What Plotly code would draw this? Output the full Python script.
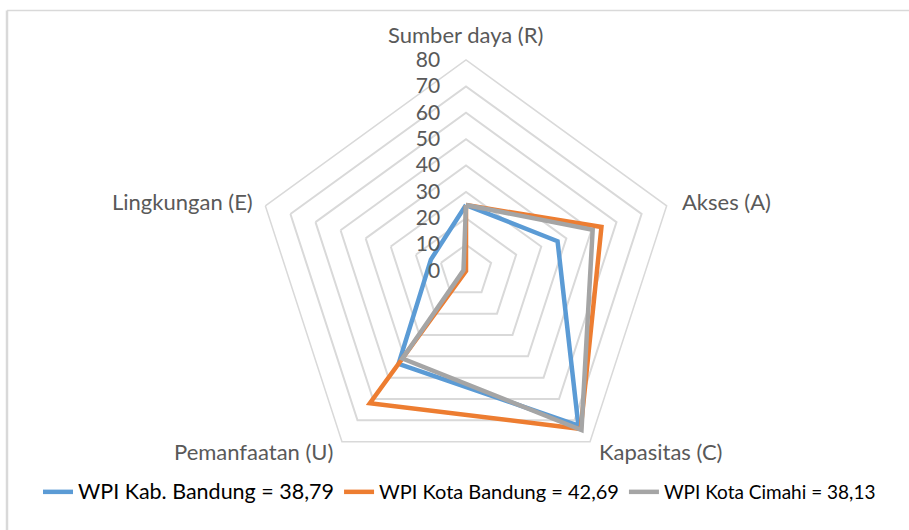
import math
import plotly.graph_objects as go

categories = ["Sumber daya (R)", "Akses (A)", "Kapasitas (C)", "Pemanfaatan (U)", "Lingkungan (E)"]
kab_bandung = [25, 36.5, 72.5, 43.5, 14]
kota_bandung = [25, 54, 74, 62, 0]
kota_cimahi = [25, 50.5, 74.5, 41, 1]
series_names = [
    '<span style="font-size:21.5px">WPI Kab. Bandung = 38,79</span>',
    '<span style="font-size:20px">WPI Kota Bandung = 42,69</span>',
    'WPI Kota Cimahi = 38,13',
]
series_colors = ["#5B9BD5", "#ED7D31", "#A5A5A5"]
radial_ticks = [0, 10, 20, 30, 40, 50, 60, 70, 80]

W, H = 909, 530
cx, cy, R = 466, 271, 211

fig = go.Figure()
for vals, name, col in zip([kab_bandung, kota_bandung, kota_cimahi], series_names, series_colors):
    fig.add_trace(go.Scatterpolar(
        r=vals + vals[:1], theta=categories + categories[:1],
        mode="lines", name=name,
        line=dict(color=col, width=4.5),
    ))

# category labels placed just outside each outer vertex (Excel-like placement)
label_offsets = [  # (dx, dy, xanchor)
    (0, -25, "center"),
    (13, -4, "left"),
    (7, 10, "left"),
    (-7, 10, "right"),
    (-10, -4, "right"),
]
annotations = []
for i, (cat, (dx, dy, xa)) in enumerate(zip(categories, label_offsets)):
    ang = math.radians(90 - 72 * i)
    vx = cx + R * math.cos(ang)
    vy = cy - R * math.sin(ang)
    annotations.append(dict(
        text=cat, xref="paper", yref="paper",
        x=(vx + dx) / W, y=1 - (vy + dy) / H,
        xanchor=xa, yanchor="middle", showarrow=False,
        font=dict(size=22, color="#595959", family="Lato, sans-serif"),
    ))

fig.update_layout(
    width=W, height=H,
    margin=dict(l=0, r=0, t=0, b=0),
    paper_bgcolor="white",
    font=dict(family="Lato, sans-serif", color="#595959"),
    polar=dict(
        domain=dict(x=[(cx - R) / W, (cx + R) / W], y=[(H - cy - R) / H, (H - cy + R) / H]),
        gridshape="linear",
        bgcolor="white",
        radialaxis=dict(
            range=[0, 80], tickvals=radial_ticks, angle=90, side="counterclockwise",
            showline=False, ticks="outside", ticklen=18, tickcolor="rgba(0,0,0,0)",
            gridcolor="#D9D9D9", gridwidth=1.5,
            tickfont=dict(size=21, color="#595959"), tickangle=90,
        ),
        angularaxis=dict(
            direction="clockwise", rotation=90, showgrid=False,
            showline=True, linecolor="#D9D9D9", linewidth=1.5, ticks="",
            showticklabels=False,
        ),
    ),
    annotations=annotations,
    showlegend=True,
    legend=dict(
        orientation="h", x=38 / W, xanchor="left", y=1 - 492 / H, yanchor="middle",
        font=dict(size=19, color="#000000"), bgcolor="rgba(0,0,0,0)",
    ),
    shapes=[
        dict(type="line", xref="paper", yref="paper", x0=7 / W, x1=1.02, y0=(H - 10.5) / H, y1=(H - 10.5) / H,
             line=dict(color="#D9D9D9", width=1.5)),
        dict(type="line", xref="paper", yref="paper", x0=7 / W, x1=7 / W, y0=-0.02, y1=(H - 10.5) / H,
             line=dict(color="#D9D9D9", width=2.5)),
    ],
)

fig.write_html("out.html", config={"displayModeBar": False},
               post_script="document.body.style.margin='0px';")
